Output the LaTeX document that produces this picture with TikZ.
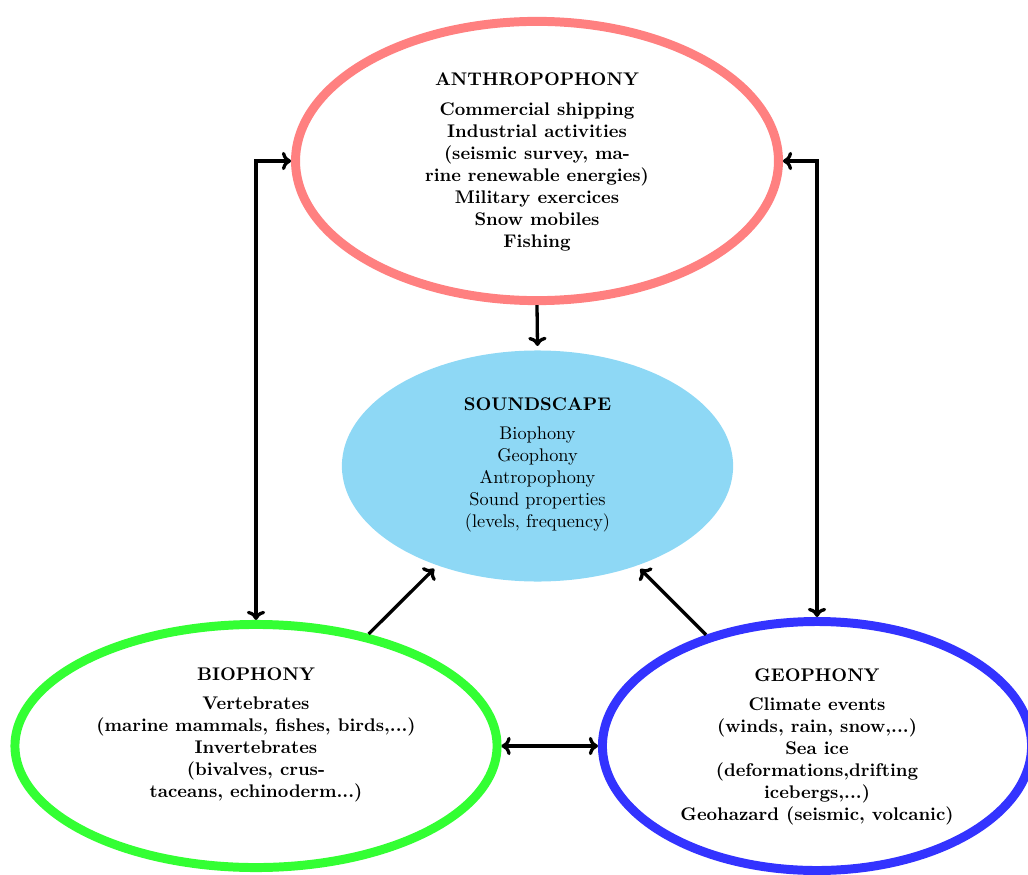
\documentclass[tikz,border=0pt]{standalone}
\usetikzlibrary{shapes.geometric,arrows.meta}
\definecolor{anthrocol}{RGB}{255,128,128}
\definecolor{soundcol}{RGB}{142,216,245}
\definecolor{biocol}{RGB}{51,255,51}
\definecolor{geocol}{RGB}{51,51,255}
\begin{document}
\begin{tikzpicture}[x=0.0192cm,y=-0.0192cm,
  blob/.style={ellipse,inner sep=0pt,line width=4.9pt},
  txt/.style={align=center,font=\bfseries},
  tip/.tip={To[length=5pt,width=10pt,line width=1.8pt]},
  link/.style={line width=1.8pt,-tip},
  blink/.style={line width=1.8pt,tip-tip}]
\useasboundingbox (0,0) rectangle (1028,875);
\node[blob,draw=anthrocol,minimum width=9.27cm,minimum height=5.36cm] (anthro) at (537,161) {};
\node[blob,fill=soundcol,minimum width=7.51cm,minimum height=4.435cm] (sound) at (537.5,466) {};
\node[blob,draw=biocol,minimum width=9.254cm,minimum height=4.666cm] (bio) at (256,746) {};
\node[blob,draw=geocol,minimum width=8.237cm,minimum height=4.78cm] (geo) at (817,746) {};
\node[txt] (anthrotxt) at (537,162) {ANTHROPOPHONY\\[4pt]
  Commercial shipping\\Industrial activities\\(seismic survey, ma-\\rine renewable energies)\\Military exercices\\Snow mobiles\\Fishing};
\node[align=center] (soundtxt) at (537.5,465) {\textbf{SOUNDSCAPE}\\[4pt]
  Biophony\\Geophony\\Antropophony\\Sound properties\\(levels, frequency)};
\node[txt] (biotxt) at (256,735) {BIOPHONY\\[4pt]
  Vertebrates\\(marine mammals, fishes, birds,...)\\Invertebrates\\(bivalves, crus-\\taceans, echinoderm...)};
\node[txt] (geotxt) at (817,747) {GEOPHONY\\[4pt]
  Climate events\\(winds, rain, snow,...)\\Sea ice\\(deformations,drifting\\icebergs,...)\\Geohazard (seismic, volcanic)};
\draw[link] (anthro.south) -- (sound.north);
\draw[link] (bio) -- (sound);
\draw[link] (geo) -- (sound);
\draw[blink] (bio.north) |- (anthro.west);
\draw[blink] (geo.north) |- (anthro.east);
\draw[blink] (bio.east) -- (geo.west);
\end{tikzpicture}
\end{document}
